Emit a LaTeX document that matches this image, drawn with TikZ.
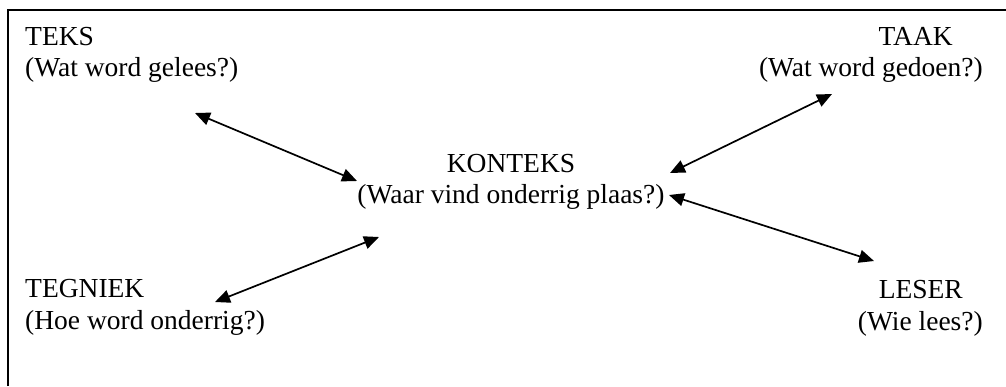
\documentclass[tikz,border=0pt]{standalone}
\usepackage{fontspec}
\setmainfont{Liberation Serif}
\usetikzlibrary{arrows.meta}
\tikzset{
  lbl/.style={inner sep=0pt, font=\fontsize{27.5}{31}\selectfont},
  link/.style={line width=1.7pt, {Triangle[length=15pt,width=13pt]}-{Triangle[length=15pt,width=13pt]}},
  frame/.style={line width=2pt}
}
\begin{document}
\begin{tikzpicture}[x=1pt,y=-1pt]
\useasboundingbox (0,0) rectangle (1006,386);
% open frame: top and left edges only
\draw[frame] (7.5,386) -- (7.5,10) -- (1006,10);

% text blocks
\node[lbl, anchor=base west] (teks)   at (25,45)  {TEKS};
\node[lbl, anchor=base west] (teksq)  at (25,76)  {(Wat word gelees?)};
\node[lbl, anchor=base east] (taak)   at (953,45) {TAAK};
\node[lbl, anchor=base east] (taakq)  at (983,76) {(Wat word gedoen?)};
\node[lbl, anchor=base]      (konteks)  at (511,172) {KONTEKS};
\node[lbl, anchor=base]      (kontekq)  at (511,203) {(Waar vind onderrig plaas?)};
\node[lbl, anchor=base west] (tegniek)  at (25,297)  {TEGNIEK};
\node[lbl, anchor=base west] (tegniekq) at (25,329)  {(Hoe word onderrig?)};
\node[lbl, anchor=base east] (leser)  at (963,298) {LESER};
\node[lbl, anchor=base east] (leserq) at (983,330) {(Wie lees?)};

% arrow end points
\coordinate (t1) at (195,113);
\coordinate (k1) at (357,181);
\coordinate (k2) at (670,173);
\coordinate (a2) at (832,94);
\coordinate (k3) at (669,195);
\coordinate (l3) at (874,261);
\coordinate (k4) at (379,237);
\coordinate (g4) at (215,302);

\draw[link] (t1) -- (k1);
\draw[link] (k2) -- (a2);
\draw[link] (k3) -- (l3);
\draw[link] (g4) -- (k4);
\end{tikzpicture}
\end{document}
